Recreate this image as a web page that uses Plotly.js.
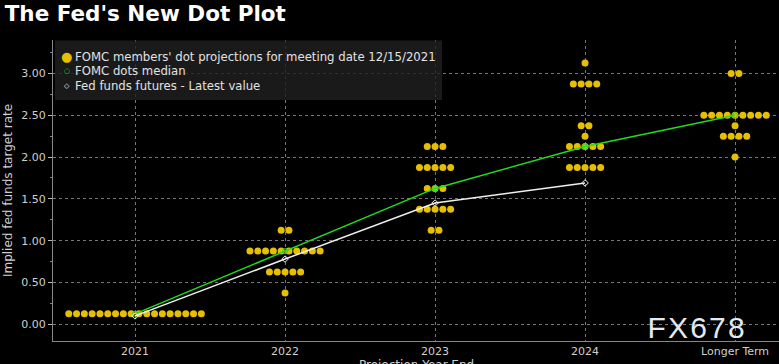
<!DOCTYPE html>
<html><head><meta charset="utf-8">
<script src="https://cdn.plot.ly/plotly-3.0.1.min.js"></script>
<style>html,body{margin:0;padding:0;background:#000;}#chart{width:779px;height:364px;}</style>
</head><body><div id="chart"></div>
<script>
const categories = ['2021', '2022', '2023', '2024', 'Longer Term'];
// dot projections: rate levels and number of members at each level
const rates2021 = [0.125];
const counts2021 = [18];
const rates2022 = [1.125, 0.875, 0.625, 0.375];
const counts2022 = [2, 10, 5, 1];
const rates2023 = [2.125, 1.875, 1.625, 1.375, 1.125];
const counts2023 = [3, 5, 3, 5, 2];
const rates2024 = [3.125, 2.875, 2.375, 2.25, 2.125, 1.875];
const counts2024 = [1, 4, 2, 1, 5, 5];
const ratesLT = [3.0, 2.5, 2.375, 2.25, 2.0];
const countsLT = [2, 9, 1, 4, 1];
const medianValues = [0.125, 0.875, 1.625, 2.125, 2.5];
const futuresCategories = ['2021', '2022', '2023', '2024'];
const futuresValues = [0.1, 0.78, 1.45, 1.69];
const legendLabels = ["FOMC members' dot projections for meeting date 12/15/2021", 'FOMC dots median', 'Fed funds futures - Latest value'];

const DOT = '#e6bf00', GREEN = '#1fdc1f', WHITE = '#f0f0f0';
const rateSets = [rates2021, rates2022, rates2023, rates2024, ratesLT];
const countSets = [counts2021, counts2022, counts2023, counts2024, countsLT];
const spacing = 0.052;
const dx = [], dy = [];
rateSets.forEach((rs, ci) => {
  rs.forEach((r, k) => {
    const n = countSets[ci][k];
    for (let j = 0; j < n; j++) {
      dx.push(ci + (j - (n - 1) / 2) * spacing);
      dy.push(r);
    }
  });
});

const traces = [
  {x: dx, y: dy, type: 'scatter', mode: 'markers', name: legendLabels[0],
   marker: {color: DOT, size: 7}},
  {x: categories.map((c, i) => i), y: medianValues, type: 'scatter', mode: 'lines+markers', name: legendLabels[1],
   line: {color: GREEN, width: 1.5}, marker: {symbol: 'circle-open', size: 5, color: GREEN, line: {width: 1}}},
  {x: futuresCategories.map(c => categories.indexOf(c)), y: futuresValues, type: 'scatter', mode: 'lines+markers', name: legendLabels[2],
   line: {color: WHITE, width: 1.5}, marker: {symbol: 'diamond-open', size: 5, color: WHITE, line: {width: 1}}}
];

// pixel helpers for paper-referenced overlay items (plot area: l=53, t=40, w=726, h=301)
const PL = 53, PT = 40, PW = 726, PH = 301;
const px = v => (v - PL) / PW;
const py = v => (PT + PH - v) / PH;

const legendY = [56.7, 71.3, 86.5];
const legendSymbols = [
  {t: '●', c: DOT, s: 13},
  {t: '○', c: GREEN, s: 7},
  {t: '◇', c: WHITE, s: 7}
];
const annotations = [];
legendLabels.forEach((lab, i) => {
  annotations.push({text: legendSymbols[i].t, xref: 'paper', yref: 'paper', x: px(66.8), y: py(legendY[i]),
    xanchor: 'center', yanchor: 'middle', showarrow: false,
    font: {family: 'DejaVu Sans, sans-serif', size: legendSymbols[i].s, color: legendSymbols[i].c}});
  annotations.push({text: lab, xref: 'paper', yref: 'paper', x: px(72.5), y: py(legendY[i]),
    xanchor: 'left', yanchor: 'middle', showarrow: false,
    font: {family: 'DejaVu Sans, sans-serif', size: 11.7, color: '#e2e2e2'}});
});
annotations.push({text: 'Projection Year End', xref: 'paper', yref: 'paper', x: 0.5, y: py(355.5),
  xanchor: 'center', yanchor: 'top', showarrow: false,
  font: {family: 'DejaVu Sans, sans-serif', size: 12, color: '#cfcfcf'}});
annotations.push({text: 'FX678', xref: 'paper', yref: 'paper', x: px(651), y: py(327.5),
  xanchor: 'left', yanchor: 'middle', showarrow: false,
  font: {family: 'Liberation Sans, sans-serif', size: 30, color: '#e2eaf6'}});

const layout = {
  width: 779, height: 364,
  paper_bgcolor: '#000', plot_bgcolor: '#000',
  margin: {l: PL, r: 0, t: PT, b: 364 - PT - PH},
  font: {family: 'DejaVu Sans, sans-serif', color: '#cfcfcf', size: 11},
  title: {text: "The Fed's New Dot Plot", x: 0.006, xanchor: 'left', y: 0.985, yanchor: 'top',
          font: {family: 'DejaVu Sans, sans-serif', size: 21.5, color: '#ffffff', weight: 'bold'}},
  showlegend: false,
  xaxis: {range: [-0.547, 4.293], tickvals: [0, 1, 2, 3, 4], ticktext: categories,
          showgrid: true, gridcolor: '#777', griddash: 'dot', gridwidth: 1,
          showline: true, linecolor: '#888', linewidth: 1, zeroline: false,
          ticks: '', tickfont: {size: 11, color: '#cfcfcf'}},
  yaxis: {range: [-0.2, 3.4], dtick: 0.5, tick0: 0, tickformat: '.2f',
          showgrid: true, gridcolor: '#777', griddash: 'dot', gridwidth: 1,
          showline: true, linecolor: '#888', linewidth: 1, zeroline: false,
          ticks: 'outside', ticklen: 4, tickcolor: '#bbb',
          minor: {dtick: 0.25, ticks: 'outside', ticklen: 2, tickcolor: '#888', showgrid: false},
          tickfont: {size: 11, color: '#cfcfcf'},
          title: {text: 'Implied fed funds target rate', font: {size: 12, color: '#cfcfcf'}, standoff: 6}},
  shapes: [{type: 'rect', xref: 'paper', yref: 'paper', x0: px(55), x1: px(442), y0: py(100), y1: py(40.5),
            fillcolor: 'rgba(32,32,32,0.82)', line: {width: 0}, layer: 'above'}],
  annotations: annotations
};
Plotly.newPlot('chart', traces, layout, {displayModeBar: false, staticPlot: true}).then(gd => {
  gd.querySelectorAll('.annotation-text').forEach(t => {
    if (t.textContent === 'FX678') t.style.letterSpacing = '2.2px';
  });
});
</script></body></html>
